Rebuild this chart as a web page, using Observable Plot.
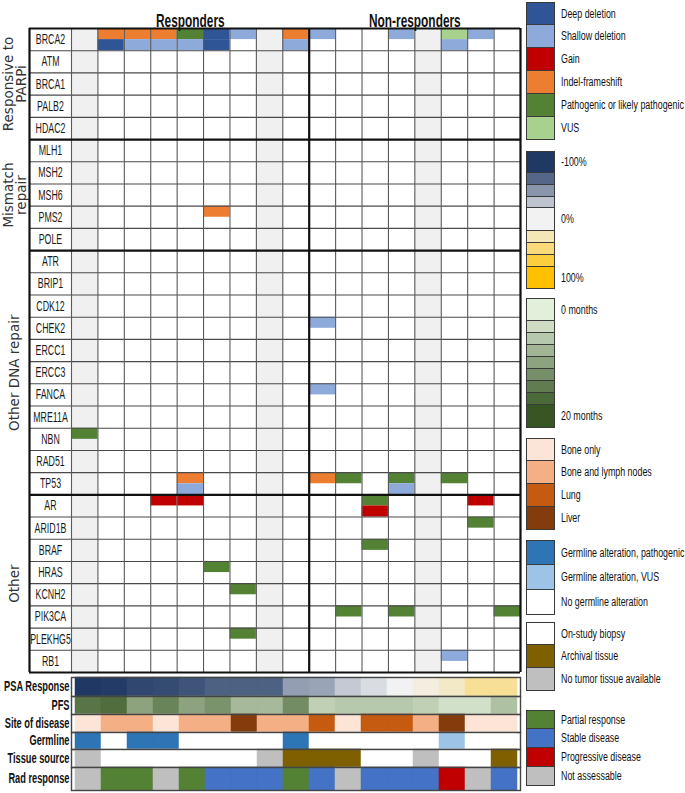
<!DOCTYPE html>
<html><head><meta charset="utf-8">
<script src="https://cdn.jsdelivr.net/npm/d3@7"></script>
<script src="https://cdn.jsdelivr.net/npm/@observablehq/plot@0.6"></script>
<style>
body{margin:0;background:#fff;}
#root{position:relative;width:685px;height:793px;overflow:hidden;font-family:"Liberation Sans",Arial,sans-serif;}
#root svg{display:block;}
.blk{position:absolute;left:526px;}
.sw{position:relative;width:29px;box-sizing:border-box;border-left:1.5px solid #3a3a3a;border-right:1.5px solid #3a3a3a;border-bottom:1px solid #3a3a3a;}
.sw:first-child{border-top:1.5px solid #3a3a3a;}
.lab{position:absolute;left:34px;top:50%;transform:translateY(-50%) scaleX(0.71);transform-origin:left center;font-size:12.5px;color:#111;white-space:nowrap;}
</style></head><body><div id="root"></div>
<script>
// ---------------- DATA ----------------
const responders = ["R1","R2","R3","R4","R5","R6","R7","R8","R9"];
const nonResponders = ["N1","N2","N3","N4","N5","N6","N7","N8"];
const groupTitles = ["Responders","Non-responders"];

const geneGroups = ["Responsive to\nPARPi","Mismatch\nrepair","Other DNA repair","Other"];
const parpGenes = ["BRCA2","ATM","BRCA1","PALB2","HDAC2"];
const mmrGenes = ["MLH1","MSH2","MSH6","PMS2","POLE"];
const dnaRepairGenes = ["ATR","BRIP1","CDK12","CHEK2","ERCC1","ERCC3","FANCA","MRE11A","NBN","RAD51","TP53"];
const otherGenes = ["AR","ARID1B","BRAF","HRAS","KCNH2","PIK3CA","PLEKHG5","RB1"];

const alterationTypes = ["Deep deletion","Shallow deletion","Gain","Indel-frameshift","Pathogenic or likely pathogenic","VUS"];
const alterationCodes = ["D","S","G","I","P","V"];
const alterationColors = ["#2f5597","#8eaadb","#c00000","#ed7d31","#548235","#a9d18e"];

// [gene, patient, alterations in the cell (first / second)]
const alterations = [
  ["BRCA2","R2","I/D"],["BRCA2","R3","I/S"],["BRCA2","R4","I/S"],["BRCA2","R5","P/S"],
  ["BRCA2","R6","D/D"],["BRCA2","R7","S"],["BRCA2","R9","I/S"],["BRCA2","N1","S"],
  ["BRCA2","N4","S"],["BRCA2","N6","V/S"],["BRCA2","N7","S"],
  ["PMS2","R6","I"],
  ["CHEK2","N1","S"],["FANCA","N1","S"],["NBN","R1","P"],
  ["TP53","R5","I/S"],["TP53","N1","I"],["TP53","N2","P"],["TP53","N4","P/S"],["TP53","N6","P"],
  ["AR","R4","G"],["AR","R5","G"],["AR","N3","P/G"],["AR","N7","G"],
  ["ARID1B","N7","P"],["BRAF","N3","P"],["HRAS","R6","P"],["KCNH2","R7","P"],
  ["PIK3CA","N2","P"],["PIK3CA","N4","P"],["PIK3CA","N8","P"],
  ["PLEKHG5","R7","P"],["RB1","N6","S"]
];

const trackLabels = ["PSA Response","PFS","Site of disease","Germline","Tissue source","Rad response"];
const psaResponse = [-100,-98,-92,-90,-85,-78,-78,-78,-45,-42,-22,-12,0,8,18,38,38];
const psaLegendTicks = ["-100%","0%","100%"];
const psaColors = ["#1f3864","#f2f2f2","#ffc000"];
const pfsMonths = [16,17,10,14,10,12,7,7,13,4,5,5,5,4,2,2,6];
const pfsLegendTicks = ["0 months","20 months"];
const pfsColors = ["#e2efda","#375623"];

const siteTypes = ["Bone only","Bone and lymph nodes","Lung","Liver"];
const siteColors = ["#fce4d6","#f4b084","#c55a11","#843c0c"];
const siteOfDisease = ["Bone only","Bone and lymph nodes","Bone and lymph nodes","Bone only","Bone and lymph nodes","Bone and lymph nodes","Liver","Bone and lymph nodes","Bone and lymph nodes",
  "Lung","Bone only","Lung","Lung","Bone and lymph nodes","Liver","Bone only","Bone only"];

const germlineTypes = ["Germline alteration, pathogenic","Germline alteration, VUS","No germline alteration"];
const germlineColors = ["#2e75b6","#9dc3e6","#ffffff"];
const germline = ["Germline alteration, pathogenic","No germline alteration","Germline alteration, pathogenic","Germline alteration, pathogenic","No germline alteration","No germline alteration","No germline alteration","No germline alteration","Germline alteration, pathogenic",
  "No germline alteration","No germline alteration","No germline alteration","No germline alteration","No germline alteration","Germline alteration, VUS","No germline alteration","No germline alteration"];

const tissueTypes = ["On-study biopsy","Archival tissue","No tumor tissue available"];
const tissueColors = ["#ffffff","#7f6000","#bfbfbf"];
const tissueSource = ["No tumor tissue available","On-study biopsy","On-study biopsy","On-study biopsy","On-study biopsy","On-study biopsy","On-study biopsy","No tumor tissue available","Archival tissue",
  "Archival tissue","Archival tissue","On-study biopsy","On-study biopsy","No tumor tissue available","On-study biopsy","On-study biopsy","Archival tissue"];

const radTypes = ["Partial response","Stable disease","Progressive disease","Not assessable"];
const radColors = ["#548235","#4472c4","#c00000","#bfbfbf"];
const radResponse = ["Not assessable","Partial response","Partial response","Not assessable","Partial response","Stable disease","Stable disease","Stable disease","Partial response",
  "Stable disease","Not assessable","Stable disease","Stable disease","Stable disease","Progressive disease","Not assessable","Stable disease"];

// ---------------- BUILD ----------------
const FONT = '"Liberation Sans",Arial,sans-serif';
const root = document.getElementById("root");
const patients = [...responders, ...nonResponders];
const nP = patients.length;
const groups = [parpGenes, mmrGenes, dnaRepairGenes, otherGenes];
const genes = groups.flat();
const nG = genes.length;
const LABW = 1.59;
const pIdx = new Map(patients.map((p, i) => [p, i]));
const gIdx = new Map(genes.map((g, i) => [g, i]));
const codeType = new Map(alterationCodes.map((c, i) => [c, alterationTypes[i]]));

const pieces = alterations.flatMap(([g, p, c]) => c.split("/").map((k, slot) => ({gene: g, patient: p, type: codeType.get(k), slot})));
const noTissue = patients.filter((p, i) => tissueSource[i] === "No tumor tissue available");
let acc = 0;
const groupBounds = groups.map((gs, i) => { const b = {label: geneGroups[i], start: acc, end: acc + gs.length}; acc += gs.length; return b; });
const titles = [
  {label: groupTitles[0], mid: responders.length / 2},
  {label: groupTitles[1], mid: responders.length + nonResponders.length / 2}
];

// horizontally condense single-line SVG texts (narrow typeface look)
function condense(svg, texts, sx) {
  const set = new Set(texts);
  svg.querySelectorAll("text").forEach(t => {
    if (!set.has(t.textContent)) return;
    let tr = t.getAttribute("transform") || "";
    const xs = t.getAttribute("x");
    if (xs !== null && xs !== "" && !isNaN(+xs)) { tr += ` translate(${+xs},0)`; t.removeAttribute("x"); }
    const ys = t.getAttribute("y");
    if (ys !== null && ys !== "" && !isNaN(+ys)) { tr += ` translate(0,${+ys})`; t.removeAttribute("y"); }
    t.setAttribute("transform", `${tr} scale(${sx},1)`);
  });
}

const main = Plot.plot({
  width: 525, height: 675, marginLeft: 29, marginRight: 5, marginTop: 28, marginBottom: 3,
  x: {domain: [-LABW, nP], axis: null},
  y: {domain: [0, nG], reverse: true, axis: null},
  color: {domain: alterationTypes, range: alterationColors},
  style: {fontFamily: FONT, background: "transparent", overflow: "visible"},
  marks: [
    Plot.rect(noTissue, {x1: d => pIdx.get(d), x2: d => pIdx.get(d) + 1, y1: () => 0, y2: () => nG, fill: "#f0f0f0"}),
    Plot.rect(pieces, {
      x1: d => pIdx.get(d.patient), x2: d => pIdx.get(d.patient) + 1,
      y1: d => gIdx.get(d.gene) + d.slot * 0.5, y2: d => gIdx.get(d.gene) + d.slot * 0.5 + 0.5,
      fill: "type"
    }),
    Plot.ruleY(d3.range(nG + 1), {x1: () => -LABW, x2: () => nP, stroke: "#4a4a4a", strokeWidth: 1.1}),
    Plot.ruleX(d3.range(nP + 1), {y1: () => 0, y2: () => nG, stroke: "#5a5a5a", strokeWidth: 1.1}),
    Plot.ruleY([0, ...groupBounds.map(d => d.end)], {x1: () => -LABW, x2: () => nP, stroke: "#111", strokeWidth: 2.2}),
    Plot.ruleX([-LABW, responders.length, nP], {y1: () => 0, y2: () => nG, stroke: "#111", strokeWidth: 2.2}),
    Plot.text(genes, {x: () => -LABW / 2, y: (d, i) => i + 0.5, text: d => d, fontSize: 14, fill: "#1a1a1a"}),
    Plot.text(groupBounds, {y: d => (d.start + d.end) / 2, frameAnchor: "left", textAnchor: "middle", dx: -14, rotate: -90, text: "label",
      fontFamily: "DejaVu Sans", fontSize: 13.5, fill: "#333", lineHeight: 0.92}),
    Plot.text(titles, {x: "mid", frameAnchor: "top", dy: -14, text: "label", fontWeight: "bold", fontSize: 18, fill: "#111"})
  ]
});
condense(main, genes, 0.63);
condense(main, groupTitles, 0.66);
main.style.position = "absolute"; main.style.left = "0px"; main.style.top = "0px";
root.appendChild(main);

// ---- annotation tracks ----
const trackDefs = [
  {values: psaResponse, color: {type: "linear", domain: [-100, 100], interpolate: d3.piecewise(d3.interpolateRgb, psaColors)}, h: 19},
  {values: pfsMonths, color: {type: "linear", domain: [0, 20], range: pfsColors}, h: 18},
  {values: siteOfDisease, color: {type: "ordinal", domain: siteTypes, range: siteColors}, h: 18},
  {values: germline, color: {type: "ordinal", domain: germlineTypes, range: germlineColors}, h: 17},
  {values: tissueSource, color: {type: "ordinal", domain: tissueTypes, range: tissueColors}, h: 18},
  {values: radResponse, color: {type: "ordinal", domain: radTypes, range: radColors}, h: 23}
];
const trackBox = document.createElement("div");
trackBox.style.cssText = "position:absolute;left:0;top:677px;";
root.appendChild(trackBox);
trackDefs.forEach((t, k) => {
  const label = trackLabels[k];
  const svg = Plot.plot({
    width: 525, height: t.h, marginLeft: 71, marginRight: 5, marginTop: 0, marginBottom: 0,
    x: {domain: patients, axis: null, padding: 0},
    y: {domain: [label], axis: null, padding: 0},
    color: t.color,
    style: {fontFamily: FONT, background: "transparent", overflow: "visible"},
    marks: [
      Plot.cell(t.values.map((v, i) => ({p: patients[i], v})), {x: "p", y: () => label, fill: "v", stroke: "v", strokeWidth: 0.5}),
      Plot.frame({stroke: "#444", strokeWidth: 1.4}),
      Plot.text([label], {y: d => d, frameAnchor: "left", textAnchor: "end", dx: -2, text: d => d, fontWeight: "bold", fontSize: 14, fill: "#111"})
    ]
  });
  condense(svg, [label], 0.66);
  trackBox.appendChild(svg);
});

// ---- legends ----
const psaScale = Plot.scale({color: trackDefs[0].color});
const pfsScale = Plot.scale({color: trackDefs[1].color});
function addLegend(top, rows) {
  const blk = document.createElement("div");
  blk.className = "blk"; blk.style.top = top + "px";
  rows.forEach(r => {
    const sw = document.createElement("div");
    sw.className = "sw"; sw.style.height = r.h + "px"; sw.style.background = r.color;
    if (r.label) { const l = document.createElement("div"); l.className = "lab"; l.textContent = r.label; sw.appendChild(l); }
    blk.appendChild(sw);
  });
  root.appendChild(blk);
}
addLegend(2, alterationTypes.map((t, i) => ({color: alterationColors[i], label: t, h: 23})));
const psaSteps = [-100, -75, -50, -25, 0, 25, 50, 75, 100];
const psaH = [22, 12, 12, 11, 23, 12, 12, 12, 22];
addLegend(151, psaSteps.map((v, i) => ({color: psaScale.apply(v), h: psaH[i], label: i === 0 ? psaLegendTicks[0] : i === 4 ? psaLegendTicks[1] : i === 8 ? psaLegendTicks[2] : null})));
const pfsSteps = d3.range(0, 20.01, 2.5);
const pfsH = [23, 12, 12, 12, 12, 12, 12, 12, 23];
addLegend(298, pfsSteps.map((v, i) => ({color: pfsScale.apply(v), h: pfsH[i], label: i === 0 ? pfsLegendTicks[0] : i === 8 ? pfsLegendTicks[1] : null})));
addLegend(438, siteTypes.map((t, i) => ({color: siteColors[i], label: t, h: 23})));
addLegend(540, germlineTypes.map((t, i) => ({color: germlineColors[i], label: t, h: 25})));
addLegend(622, tissueTypes.map((t, i) => ({color: tissueColors[i], label: t, h: 23})));
addLegend(710, radTypes.map((t, i) => ({color: radColors[i], label: t, h: 19})));
</script></body></html>
